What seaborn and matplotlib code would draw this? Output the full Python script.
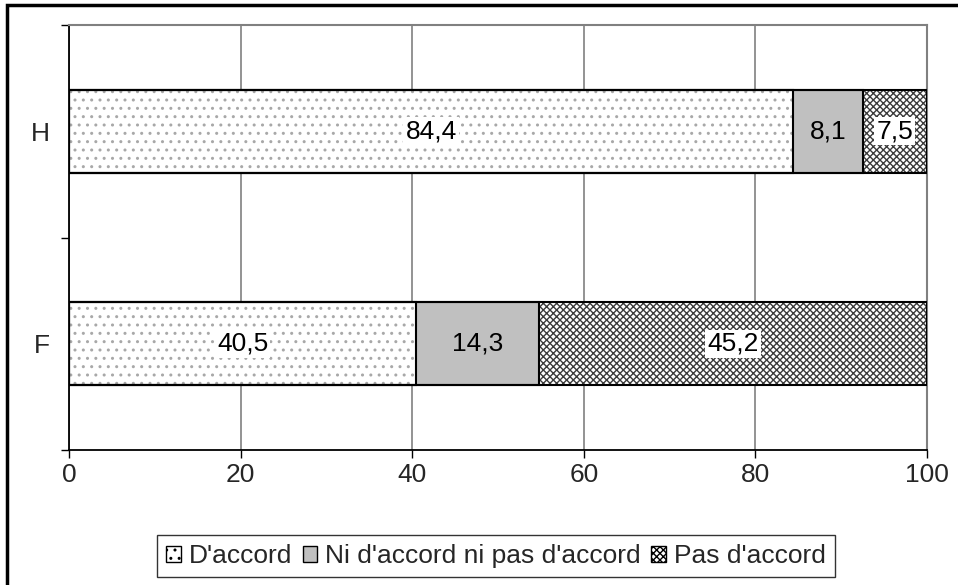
import matplotlib
matplotlib.use("Agg")
import matplotlib.pyplot as plt
import seaborn as sns
import pandas as pd
import numpy as np
from matplotlib.patches import Patch, Rectangle

groups = ["H", "F"]
categories = ["D'accord", "Ni d'accord ni pas d'accord", "Pas d'accord"]
d_accord = [84.4, 40.5]
ni_ni = [8.1, 14.3]
pas_accord = [7.5, 45.2]
xticks = [0, 20, 40, 60, 80, 100]

faces = ["white", "#c0c0c0", "white"]
hatch_colors = ["#a8a8a8", "#c0c0c0", "#3c3c3c"]
hatches = ["..", "", "xxxxx"]
label_bg = [True, False, True]

sns.set_theme(style="white")
plt.rcParams["font.family"] = ["Liberation Sans", "DejaVu Sans"]
plt.rcParams["hatch.linewidth"] = 1.0

fig = plt.figure(figsize=(9.58, 5.85), dpi=100)
ax = fig.add_axes([69 / 958, 1 - 450 / 585, (927 - 69) / 958, (450 - 25) / 585])

series = [d_accord, ni_ni, pas_accord]
df = pd.DataFrame({"groupe": groups})
cum = np.cumsum(np.array(series), axis=0)
for i, c in enumerate(categories):
    df[c] = cum[i]

bar_w = 0.39
fs = 19
# draw cumulative bars from largest to smallest so the segments stack
for i in reversed(range(len(categories))):
    sns.barplot(data=df, x=categories[i], y="groupe", orient="h", ax=ax,
                color=faces[i], width=bar_w, linewidth=0,
                edgecolor=hatch_colors[i], hatch=hatches[i] or None,
                saturation=1, zorder=2)
# outlines
for i in reversed(range(len(categories))):
    sns.barplot(data=df, x=categories[i], y="groupe", orient="h", ax=ax,
                fill=False, width=bar_w, linewidth=1.5, edgecolor="black",
                zorder=3)

# value labels
for gi, g in enumerate(groups):
    left = 0
    for si, vals in enumerate(series):
        v = vals[gi]
        bbox = dict(facecolor="white", edgecolor="none", pad=1.5) if label_bg[si] else None
        ax.text(left + v / 2, gi, f"{v:.1f}".replace(".", ","), ha="center",
                va="center", fontsize=fs, color="black", bbox=bbox, zorder=5)
        left += v

ax.set_xlim(0, 100)
ax.set_ylim(1.5, -0.5)
ax.set_xticks(xticks)
ax.set_xticklabels([str(t) for t in xticks], fontsize=fs)
ax.set_xlabel("")
ax.set_ylabel("")
ax.tick_params(axis="y", which="major", length=0, pad=14, labelsize=fs)
ax.set_yticks([-0.5, 0.5, 1.5], minor=True)
ax.tick_params(axis="y", which="minor", length=6, width=1, color="black",
               direction="out", left=True)
ax.tick_params(axis="x", length=6, width=1, color="black", direction="out",
               bottom=True, pad=3)
ax.grid(axis="x", color="#808080", linewidth=1.2, zorder=0)
ax.set_axisbelow(True)
for s in ["left", "bottom"]:
    ax.spines[s].set_color("black")
    ax.spines[s].set_linewidth(1.3)
for s in ["top", "right"]:
    ax.spines[s].set_color("#808080")
    ax.spines[s].set_linewidth(1.5)

handles = [Patch(facecolor=faces[i], edgecolor="black", hatch=hatches[i],
                 linewidth=1.0, label=categories[i]) for i in range(3)]
leg = fig.legend(handles=handles, loc="center", ncol=3,
                 bbox_to_anchor=(496 / 958, 1 - 556 / 585), fontsize=fs,
                 frameon=True, fancybox=False, handlelength=0.55,
                 handleheight=0.55, handletextpad=0.3, columnspacing=0.4,
                 borderpad=0.35, borderaxespad=0)
leg.get_frame().set_edgecolor("black")
leg.get_frame().set_linewidth(1.0)

# outer chart border
fig.patches.append(Rectangle((7 / 958, -0.1), 1.2, 1.1 - 5 / 585,
                             transform=fig.transFigure, fill=False,
                             edgecolor="black", linewidth=2.5))

fig.savefig("out.png", dpi=100)
